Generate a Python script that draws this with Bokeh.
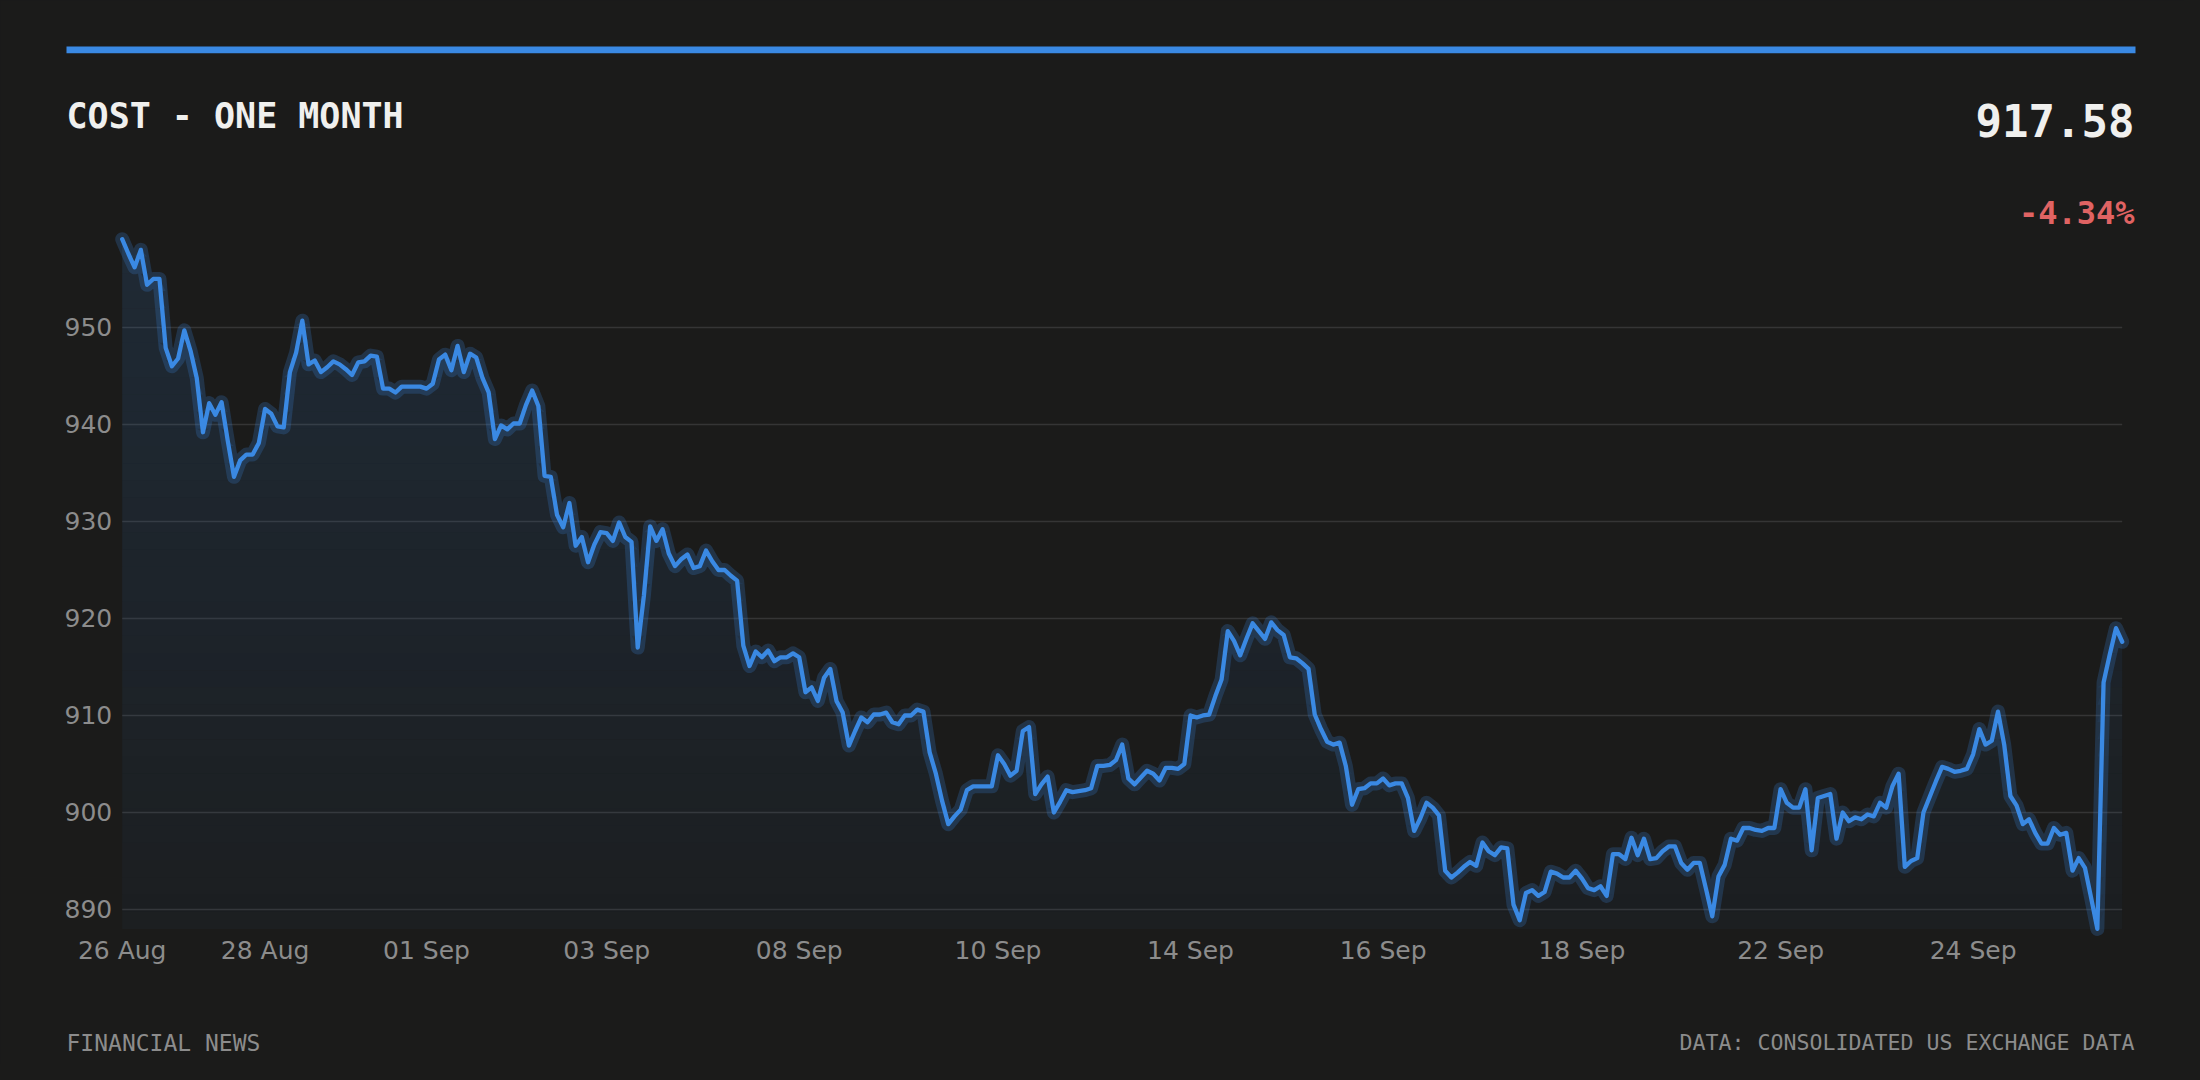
import numpy as np
from bokeh.plotting import figure
from bokeh.models import Range1d, Label, BoxAnnotation, GlobalInlineStyleSheet
from bokeh.core.properties import value
from bokeh.embed import file_html
from bokeh.resources import INLINE

## ----- DATA ----- ##
# closing prices, one point per bar
PRICE = [
    959.1, 957.6, 956.2, 958.0, 954.4, 955.0, 955.0, 947.9, 946.0, 946.8,
    949.7, 947.6, 944.8, 939.2, 942.2, 941.0, 942.3, 938.3, 934.6, 936.3,
    936.9, 936.9, 938.1, 941.6, 941.1, 939.8, 939.7, 945.4, 947.4, 950.7,
    946.2, 946.6, 945.4, 945.9, 946.5, 946.2, 945.7, 945.1, 946.4, 946.5,
    947.1, 947.0, 943.7, 943.7, 943.3, 943.9, 943.9, 943.9, 943.9, 943.7,
    944.2, 946.7, 947.2, 945.6, 948.1, 945.4, 947.3, 946.9, 944.8, 943.3,
    938.5, 939.9, 939.5, 940.1, 940.1, 942.0, 943.5,
    941.9, 934.7, 934.6, 930.7, 929.4, 931.9, 927.5, 928.4, 925.8, 927.6,
    928.9, 928.8, 928.0, 929.9, 928.4, 927.9, 917.0, 922.4, 929.5, 928.0,
    929.2, 926.7, 925.4, 926.1, 926.6, 925.2, 925.4, 927.0, 925.9, 925.0,
    925.0, 924.4, 923.9, 917.2, 915.1, 916.6, 916.0, 916.7, 915.6, 916.0,
    916.0, 916.4, 916.0, 912.4, 912.9, 911.5, 913.9, 914.8, 911.5, 910.3,
    906.9, 908.4, 909.8, 909.3, 910.1, 910.1, 910.3, 909.3, 909.1, 910.0,
    910.0, 910.6, 910.4,
    906.2, 904.0, 901.2, 898.8, 899.6, 900.3, 902.3, 902.7, 902.7, 902.7,
    902.7, 905.9, 905.0, 903.8, 904.3, 908.4, 908.8, 901.9, 902.9, 903.7,
    900.0, 901.1, 902.3, 902.1, 902.2, 902.3, 902.5, 904.8, 904.8, 904.9,
    905.4, 907.0, 903.5, 902.9, 903.6, 904.3, 904.0, 903.3, 904.6, 904.6,
    904.5, 905.0, 910.0, 909.8, 910.0, 910.1, 912.0, 913.7, 918.7, 917.7,
    916.2, 917.9, 919.5, 918.7, 917.9, 919.6, 918.8, 918.3, 916.0, 915.9,
    915.4, 914.8, 910.1,
    908.6, 907.3, 907.0, 907.2, 904.8, 900.8, 902.4, 902.5, 903.0, 903.0,
    903.5, 902.8, 903.0, 903.0, 901.5, 898.1, 899.4, 901.0, 900.5, 899.7,
    894.0, 893.3, 893.8, 894.4, 894.9, 894.5, 896.9, 896.0, 895.6, 896.4,
    896.3, 890.5, 888.9, 891.7, 892.0, 891.4, 891.8, 893.9, 893.7, 893.3,
    893.3, 894.0, 893.2, 892.2, 892.0, 892.4, 891.4, 895.7, 895.7, 895.2,
    897.4, 895.6, 897.3, 895.2, 895.3, 896.0, 896.5, 896.5, 894.8, 894.1,
    894.8, 894.8, 892.1, 889.3, 893.4, 894.6, 897.3,
    897.1, 898.4, 898.4, 898.2, 898.1, 898.4, 898.4, 902.4, 901.0, 900.5,
    900.5, 902.4, 896.1, 901.5, 901.7, 901.9, 897.3, 900.0, 899.1, 899.5,
    899.3, 899.8, 899.6, 901.0, 900.5, 902.7, 904.0, 894.4, 895.0, 895.3,
    900.0, 901.6, 903.2, 904.7, 904.5, 904.2, 904.3, 904.5, 906.0, 908.6,
    907.0, 907.4, 910.4, 907.0, 901.7, 900.7, 898.8, 899.3, 897.9, 896.8,
    896.8, 898.4, 897.7, 897.9, 894.0, 895.3, 894.3, 891.2, 888.0, 913.4,
    916.3, 919.0, 917.6,
]

TICK_POS    = [0, 23, 49, 78, 109, 141, 172, 203, 235, 267, 298]
TICK_LABELS = ["26 Aug", "28 Aug", "01 Sep", "03 Sep", "08 Sep", "10 Sep",
               "14 Sep", "16 Sep", "18 Sep", "22 Sep", "24 Sep"]
Y_TICKS     = [890, 900, 910, 920, 930, 940, 950]

TITLE       = "COST - ONE MONTH"
LAST_PRICE  = "917.58"
CHANGE      = "-4.34%"
FOOT_LEFT   = "FINANCIAL NEWS"
FOOT_RIGHT  = "DATA: CONSOLIDATED US EXCHANGE DATA"

## ----- STYLE ----- ##
BG      = "#1b1b1a"
BLUE    = "#3a89e3"
RED     = "#e06363"
WHITE   = "#f0f0ee"
GREY    = "#8c8c8c"
GRID    = "#353535"
MONO    = "DejaVu Sans Mono"
SANS    = "DejaVu Sans"

# canvas and the box the chart lives in (pixels, from top-left)
W, H = 2184, 1064
CH_L, CH_R, CH_T, CH_B = 121.7, 2121.7, 238.7, 928.4

xs = np.arange(len(PRICE))
price = np.array(PRICE)
lo, hi = price.min(), price.max()

# the whole canvas is the plot frame, ranges padded so the data sits in the chart box
ppx = (CH_R - CH_L) / (len(PRICE) - 1)
ppy = (CH_B - CH_T) / (hi - lo)
x_range = Range1d(-CH_L / ppx, (len(PRICE) - 1) + (W - CH_R) / ppx)
y_range = Range1d(lo - (H - CH_B) / ppy, hi + CH_T / ppy)

p = figure(width=W, height=H, output_backend="svg", toolbar_location=None,
           title=None, x_axis_type=None, y_axis_type=None,
           x_range=x_range, y_range=y_range, min_border=0)
p.stylesheets = [GlobalInlineStyleSheet(css="body { background-color: %s; }" % BG)]
p.background_fill_color = BG
p.border_fill_color = BG
p.outline_line_color = None

## ----- GRID + TICK LABELS ----- ##
p.segment(x0=0, x1=len(PRICE) - 1, y0=Y_TICKS, y1=Y_TICKS,
          line_color=GRID, line_width=1.5)
p.text(x=0, y=Y_TICKS, text=[str(t) for t in Y_TICKS], x_offset=-10,
       text_align="right", text_baseline="middle", text_font=value(SANS),
       text_font_size=value("25px"), text_color=GREY)
p.text(x=TICK_POS, y=lo, text=TICK_LABELS, y_offset=7,
       text_align="center", text_baseline="top", text_font=value(SANS),
       text_font_size=value("25px"), text_color=GREY)

## ----- AREA + LINE ----- ##
# area under the line, faded from top to bottom in thin bands
edges = np.linspace(lo, hi, 41)
for i in range(40):
    a, b = edges[i], edges[i + 1]
    alpha = 0.035 + 0.105 * (i + 0.5) / 40
    p.varea(x=xs, y1=a, y2=np.clip(price, a, b), fill_color=BLUE, fill_alpha=alpha)

# glow + line
p.line(xs, price, line_width=14, line_color=BLUE, line_alpha=0.22,
       line_join="round", line_cap="round")
p.line(xs, price, line_width=4.3, line_color=BLUE, line_join="round", line_cap="round")

## ----- HEADER / FOOTER ----- ##
p.add_layout(BoxAnnotation(left=66, right=2135, top=H - 46, bottom=H - 52.7,
                           left_units="screen", right_units="screen",
                           top_units="screen", bottom_units="screen",
                           fill_color=BLUE, fill_alpha=1.0, line_color=None))


def label(x, y, text, size, color, align="left", bold=True):
    # x, y: page pixels from the top-left
    p.add_layout(Label(x=x, y=H - y, x_units="screen", y_units="screen", text=text,
                       text_font=MONO, text_font_size=size, text_color=color,
                       text_font_style="bold" if bold else "normal",
                       text_align=align, text_baseline="alphabetic"))


label(66, 115.5, TITLE, "35px", WHITE)
label(2134, 120, LAST_PRICE, "44px", WHITE, align="right")
label(2134, 212.5, CHANGE, "32px", RED, align="right")
label(66, 1042, FOOT_LEFT, "23px", GREY, bold=False)
label(2134, 1042, FOOT_RIGHT, "21.6px", GREY, align="right", bold=False)

open("out.html", "w").write(file_html(p, INLINE))
